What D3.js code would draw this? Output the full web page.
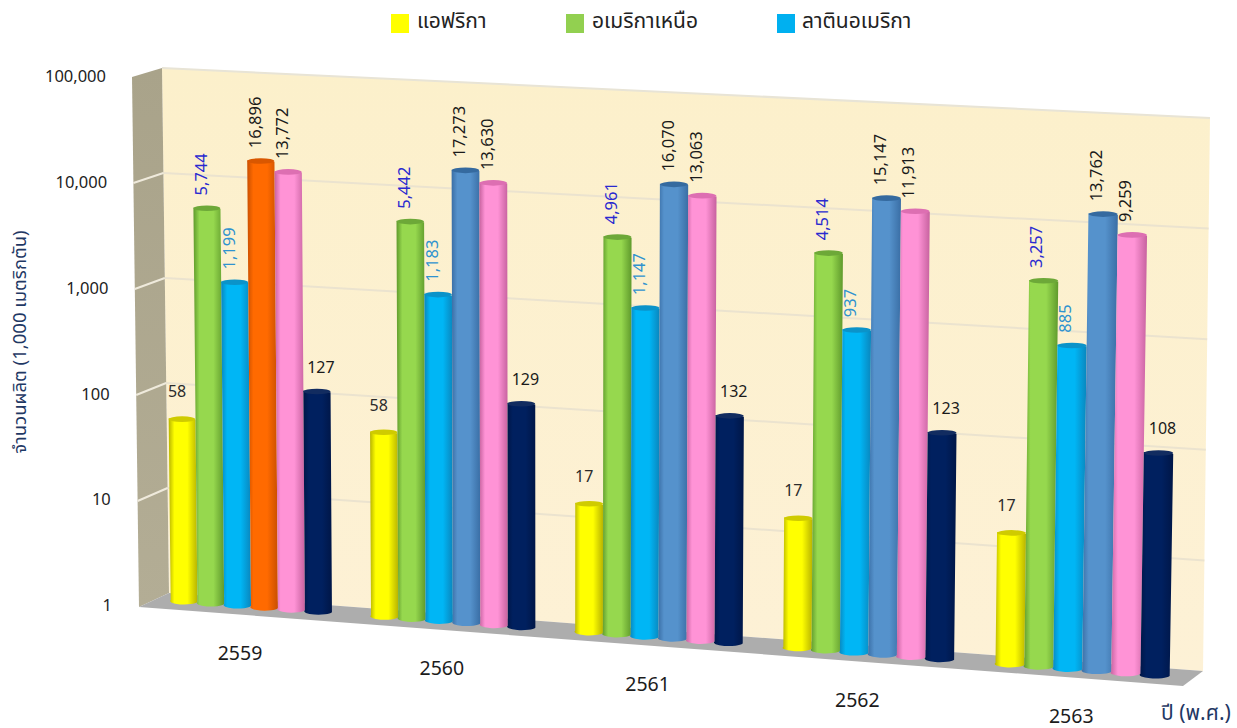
<!DOCTYPE html>
<html lang="th"><head><meta charset="utf-8">
<script src="https://cdn.jsdelivr.net/npm/d3@7"></script>
<style>
html,body{margin:0;padding:0;background:#fff}
svg{display:block}
text{font-family:"Noto Sans","Noto Sans Thai","DejaVu Sans",sans-serif}
</style></head><body><svg id="c" width="1237" height="728"></svg>
<script>
const years = ["2559","2560","2561","2562","2563"];
const africa = [58,58,17,17,17];
const northAmerica = [5744,5442,4961,4514,3257];
const latinAmerica = [1199,1183,1147,937,885];
const seriesFour = [16896,17273,16070,15147,13762];
const seriesFive = [13772,13630,13063,11913,9259];
const seriesSix = [127,129,132,123,108];
const seriesValues = [africa,northAmerica,latinAmerica,seriesFour,seriesFive,seriesSix];
const yTicks = [1,10,100,1000,10000,100000];
const legendNames = ["แอฟริกา","อเมริกาเหนือ","ลาตินอเมริกา"];
const legendColors = ["#ffff00","#92d050","#00b0f0"];
const yTitle = "จำนวนผลิต (1,000  เมตริกตัน)";
const xTitle = "ปี (พ.ศ.)";

const barFill = [
 {edge:"#b8b400",mid:"#ffff00",top:"#cfcb00"},
 {edge:"#5f9a2c",mid:"#96d84e",top:"#6da838"},
 {edge:"#0a86bd",mid:"#00b6f5",top:"#0b93c9"},
 {edge:"#3a6ea5",mid:"#5592cc",top:"#356a9f"},
 {edge:"#c7629f",mid:"#ff93d6",top:"#dd6fb2"},
 {edge:"#001647",mid:"#00205f",top:"#122c60"}];
const firstYearFourth = {edge:"#c94f00",mid:"#ff6a00",top:"#d95700"};

const svg = d3.select("#c"), defs = svg.append("defs");
function grad(id,c){
  const g=defs.append("linearGradient").attr("id",id);
  [[0,c.edge],[.2,c.mid],[.65,c.mid],[1,c.edge]].forEach(s=>g.append("stop").attr("offset",s[0]).attr("stop-color",s[1]));
}
barFill.forEach((c,i)=>grad("b"+i,c)); grad("bo",firstYearFourth);
const wg=defs.append("linearGradient").attr("id","wall").attr("x1",0).attr("x2",0).attr("y1",0).attr("y2",1);
wg.append("stop").attr("offset",0).attr("stop-color","#fcf0cb");
wg.append("stop").attr("offset",1).attr("stop-color","#fdf1d6");
const sg=defs.append("linearGradient").attr("id","side").attr("x1",0).attr("x2",0).attr("y1",0).attr("y2",1);
sg.append("stop").attr("offset",0).attr("stop-color","#a9a38a");
sg.append("stop").attr("offset",1).attr("stop-color","#b3ad95");

// scales
const vScale = d3.scaleLog().domain([1,100000]).range([0,1]);
const uYear = d3.scaleBand().domain(d3.range(5)).range([0,1]);
const uBar = d3.scaleBand().domain(d3.range(6)).range([0,1]).paddingOuter(0.72).paddingInner(0);
const uStep = uBar.step()*uYear.bandwidth();
const uOf = (g,s)=>uYear(g)+(uBar(s)+uBar.bandwidth()/2)*uYear.bandwidth();
// bar plane: perspective across, slight lean and growth with depth
const xBase = u=>(983.3*u+151.5)/(1-0.047*u);
const yBase = u=>601.5+0.0762*(xBase(u)-151.5);
const bar = (u,v)=>[xBase(u)+v*(-6+15*u), yBase(u)-v*5*(106.2+6*u)];
// back wall and side wall
const wallP = (t,v)=>[d3.interpolate(169,1203)(t)+v*d3.interpolate(-7,7)(t), d3.interpolate(593,671)(t)-v*d3.interpolate(525,553)(t)];
const sideFront = v=>[139-7*v, 607-530*v];
const line = d3.line();
const poly = p=>line(p)+"Z";

// wall
svg.append("path").attr("d",poly([wallP(0,0),wallP(0,1),wallP(1,1),wallP(1,0)])).attr("fill","url(#wall)");
svg.append("path").attr("d",line([wallP(0,1),wallP(1,1)])).attr("stroke","#e8e4d6").attr("stroke-width",2).attr("fill","none");
// side wall
svg.append("path").attr("d",poly([sideFront(0),sideFront(1),wallP(0,1),wallP(0,0)])).attr("fill","url(#side)");
// floor
svg.append("path").attr("d",poly([sideFront(0),wallP(0,0),wallP(1,0),[1183,686]])).attr("fill","#adadad");
// gridlines
const gridV = yTicks.slice(1,5).map(vScale);
svg.append("g").selectAll("path").data(gridV).join("path")
  .attr("d",v=>line([wallP(0,v),wallP(1,v)])).attr("stroke","#ebe3cf").attr("stroke-width",2).attr("fill","none");
svg.append("g").selectAll("path").data(gridV).join("path")
  .attr("d",v=>line([sideFront(v),wallP(0,v)])).attr("stroke","#efeadc").attr("stroke-width",2).attr("fill","none");

// bars
const cells = [];
seriesValues.forEach((vals,s)=>vals.forEach((value,g)=>cells.push({s,g,value})));
cells.sort((a,b)=>a.g-b.g||a.s-b.s);
const gBars = svg.append("g");
cells.forEach(d=>{
  const u=uOf(d.g,d.s), w=uStep*.5, v=vScale(d.value);
  const bl=bar(u-w,0), br=bar(u+w,0), tl=bar(u-w,v), tr=bar(u+w,v);
  const ry=2.8, drop=-3;
  const isOrange=d.s===3&&d.g===0;
  const fill=isOrange?"url(#bo)":`url(#b${d.s})`;
  const rx=(br[0]-bl[0])/2;
  const p=`M${tl[0]},${tl[1]+ry}L${bl[0]},${bl[1]+drop}A${rx},${ry+.6} 0 0 0 ${br[0]},${br[1]+drop}L${tr[0]},${tr[1]+ry}Z`;
  gBars.append("path").attr("d",p).attr("fill",fill);
  const c=isOrange?firstYearFourth:barFill[d.s];
  gBars.append("ellipse").attr("cx",(tl[0]+tr[0])/2).attr("cy",(tl[1]+tr[1])/2+ry).attr("rx",rx).attr("ry",ry).attr("fill",c.top);
});

// value labels
const labelColor = ["#2b2b2b","#2a2ad0","#2f93cf","#1a1a1a","#1a1a1a","#1a1a1a"];
const fmt = d3.format(",");
const gLab = svg.append("g");
cells.forEach(d=>{
  const u=uOf(d.g,d.s), t=bar(u,vScale(d.value));
  const rotated=d.value>=500;
  const txt=gLab.append("text").text(fmt(d.value)).attr("fill",labelColor[d.s]);
  if(rotated){
    txt.attr("font-size",16.5).attr("text-anchor","start").attr("dominant-baseline","central")
       .attr("transform",`translate(${t[0]-6-2*u},${t[1]-10}) rotate(-90)`);
  } else {
    const dx=d.s===0?-5:4, dy=d.s===0?-25:-22;
    txt.attr("font-size",16).attr("text-anchor","middle").attr("dominant-baseline","central")
       .attr("x",t[0]+dx).attr("y",t[1]+dy);
  }
});

// y axis
const yAxisScale = d3.scaleLog().domain([1,100000]).range([606,77]);
const gy = svg.append("g").call(d3.axisLeft(yAxisScale).tickValues(yTicks).tickFormat(fmt).tickSize(0));
gy.select(".domain").remove();
gy.selectAll(".tick").attr("transform",d=>`translate(${112-6*vScale(d)+3},${yAxisScale(d)})`);
gy.attr("font-family",null);
gy.selectAll("text").attr("font-size",16.5).attr("fill","#222");

// year labels
svg.append("g").selectAll("text").data(years).join("text").text(d=>d)
  .attr("text-anchor","middle").attr("dominant-baseline","central").attr("font-size",19.5).attr("fill","#1c1c1c")
  .attr("x",(d,i)=>xBase(uYear(i)+uYear.bandwidth()/2)-11)
  .attr("y",(d,i)=>yBase(uYear(i)+uYear.bandwidth()/2)+43.5);

// legend
const lg=svg.append("g").selectAll("g").data(legendNames).join("g")
  .attr("transform",(d,i)=>`translate(${[391,566,777][i]},14)`);
lg.append("rect").attr("width",18).attr("height",19).attr("fill",(d,i)=>legendColors[i]);
lg.append("text").text(d=>d).attr("x",(d,i)=>[26,26,25][i]).attr("y",6).attr("dominant-baseline","central").attr("font-size",21).attr("fill","#222");

// axis titles
svg.append("text").text(yTitle).attr("text-anchor","middle").attr("dominant-baseline","central")
  .attr("transform","translate(18,342) rotate(-90)").attr("font-size",18.5).attr("fill","#1f3864");
svg.append("text").text(xTitle).attr("x",1161).attr("y",712).attr("dominant-baseline","central").attr("font-size",21).attr("fill","#1f3864");
</script></body></html>
